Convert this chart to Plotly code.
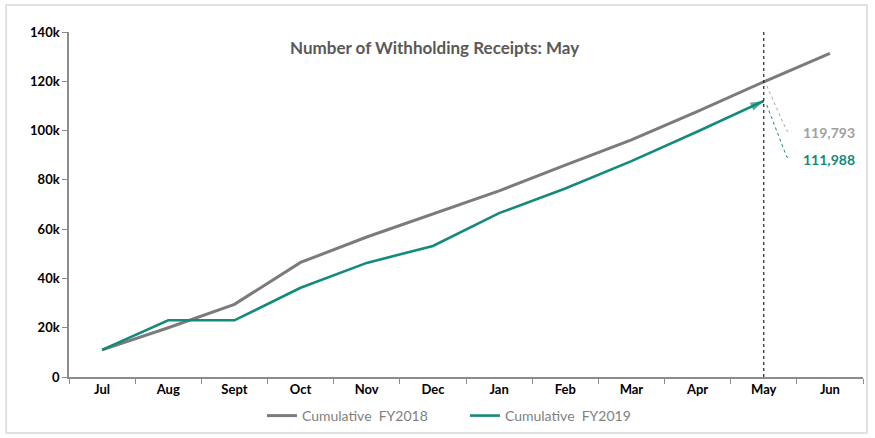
import plotly.graph_objects as go

months = ["Jul", "Aug", "Sept", "Oct", "Nov", "Dec", "Jan", "Feb", "Mar", "Apr", "May", "Jun"]
fy2018 = [11000, 20000, 29500, 46500, 56800, 66300, 75500, 86000, 96200, 107800, 119793, 131300]
fy2019 = [11000, 23000, 23000, 36200, 46300, 53200, 66500, 76500, 87600, 99600, 111988]
ytick_vals = [0, 20000, 40000, 60000, 80000, 100000, 120000, 140000]
ytick_text = ["0", "20k", "40k", "60k", "80k", "100k", "120k", "140k"]
title_text = "Number of Withholding Receipts: May"
name18 = "Cumulative  FY2018"
name19 = "Cumulative  FY2019"

GRAY = "#7b7b7b"
GREEN = "#138a7a"
FONT = "Lato"

fig = go.Figure()
fig.add_trace(go.Scatter(
    x=months, y=fy2018, mode="lines", name=name18,
    line=dict(color=GRAY, width=3),
))
n19 = len(fy2019)
fig.add_trace(go.Scatter(
    x=months[:n19], y=fy2019, mode="lines+markers", name=name19,
    line=dict(color=GREEN, width=2.6),
    marker=dict(symbol=["circle"] * (n19 - 1) + ["arrow"],
                size=[0] * (n19 - 1) + [14],
                angleref="previous", color=GREEN, line=dict(width=0)),
))

last = n19 - 1
# vertical dotted line at current month
fig.add_shape(type="line", xref="x", yref="paper", x0=months[last], x1=months[last],
              y0=0, y1=1, line=dict(color="#222222", width=1.2, dash="dot"))

# leader lines (pixel offsets from data anchors)
fig.add_shape(type="path", xref="x", yref="y", xsizemode="pixel", ysizemode="pixel",
              xanchor=months[last], yanchor=fy2018[last],
              path="M 3 -4 L 23 -49 L 28 -50",
              line=dict(color="#a6a6a6", width=1, dash="dot"))
fig.add_shape(type="path", xref="x", yref="y", xsizemode="pixel", ysizemode="pixel",
              xanchor=months[last], yanchor=fy2019[last],
              path="M 3 -4 L 23 -56 L 27 -57",
              line=dict(color=GREEN, width=1, dash="dot"))

fig.add_annotation(x=months[last], y=fy2018[last], text=f"{fy2018[last]:,}",
                   showarrow=False, xanchor="left", yanchor="middle",
                   xshift=37, yshift=-51,
                   font=dict(family=FONT, size=14, color="#a0a0a0", weight="bold"))
fig.add_annotation(x=months[last], y=fy2019[last], text=f"{fy2019[last]:,}",
                   showarrow=False, xanchor="left", yanchor="middle",
                   xshift=37, yshift=-58,
                   font=dict(family=FONT, size=14, color=GREEN, weight="bold"))

# title inside plot
fig.add_annotation(xref="paper", yref="paper", x=0.46, y=0.955, text=title_text,
                   showarrow=False, xanchor="center", yanchor="middle",
                   font=dict(family=FONT, size=17, color="#595959", weight="bold"))

# outer border
fig.add_shape(type="rect", xref="paper", yref="paper", x0=-0.0793, x1=1.005,
              y0=-0.162, y1=1.078, line=dict(color="#d9d9d9", width=1.5),
              fillcolor="rgba(0,0,0,0)", layer="below")

fig.update_layout(
    template="none",
    width=875, height=438,
    margin=dict(l=69, r=12, t=32, b=61, autoexpand=False),
    paper_bgcolor="white", plot_bgcolor="white",
    font=dict(family=FONT, color="#000000"),
    showlegend=True,
    legend=dict(orientation="h", x=0.243, xanchor="left", y=-0.113, yanchor="middle",
                font=dict(family=FONT, size=14, color="#7f7f7f"),
                bgcolor="rgba(0,0,0,0)", entrywidth=158, entrywidthmode="pixels",
                tracegroupgap=0),
)
fig.update_xaxes(
    type="category", categoryorder="array", categoryarray=months,
    range=[-0.5, len(months) - 0.5], automargin=False,
    showgrid=False, zeroline=False,
    showline=True, linecolor="#8c8c8c", linewidth=1.5,
    ticks="outside", tickson="boundaries", ticklen=5, tickcolor="#8c8c8c", tickwidth=1.2,
    tickfont=dict(family=FONT, size=13, color="#000000", weight="bold"),
)
fig.update_yaxes(
    range=[0, 140000], tickvals=ytick_vals, ticktext=ytick_text, automargin=False,
    showgrid=False, zeroline=False,
    showline=True, linecolor="#8c8c8c", linewidth=1.5,
    ticks="outside", ticklen=5, tickcolor="#8c8c8c", tickwidth=1.2,
    tickfont=dict(family=FONT, size=13, color="#000000", weight="bold"),
)

fig.write_html("out.html", config={"displayModeBar": False},
               post_script="document.body.style.margin='0';")
